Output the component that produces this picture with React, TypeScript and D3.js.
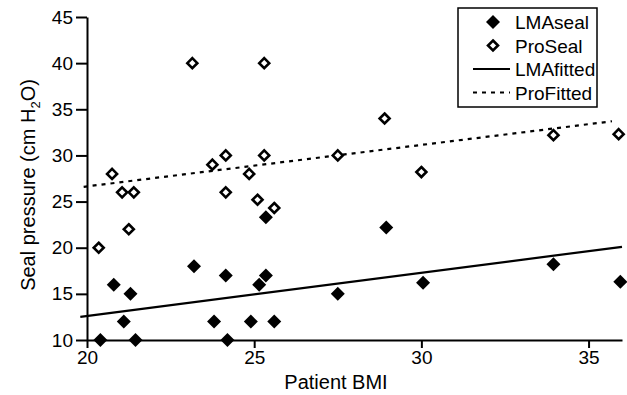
import React, { useRef, useEffect } from 'react';
import * as d3 from 'd3';

// LMA seal pressures (filled diamonds)
const lmaBmi = [20.4, 20.8, 21.1, 21.3, 21.45, 23.2, 23.8, 24.15, 24.2, 24.9, 25.15, 25.35, 25.35, 25.6, 27.5, 28.95, 30.05, 33.95, 35.95];
const lmaSeal = [10, 16, 12, 15, 10, 18, 12, 17, 10, 12, 16, 17, 23.3, 12, 15, 22.2, 16.2, 18.2, 16.3];

// ProSeal pressures (open diamonds)
const proBmi = [20.35, 20.75, 21.05, 21.25, 21.4, 23.15, 23.75, 24.15, 24.15, 24.85, 25.1, 25.3, 25.3, 25.6, 27.5, 28.9, 30.0, 33.95, 35.9];
const proSeal = [20, 28, 26, 22, 26, 40, 29, 30, 26, 28, 25.2, 40, 30, 24.3, 30, 34, 28.2, 32.2, 32.3];

// fitted lines (end points)
const lmaFitX = [19.8, 36];
const lmaFitY = [12.5, 20.1];
const proFitX = [19.9, 35.7];
const proFitY = [26.6, 33.7];

const xTicks = [20, 25, 30, 35];
const yTicks = [10, 15, 20, 25, 30, 35, 40, 45];
const legendLabels = ['LMAseal', 'ProSeal', 'LMAfitted', 'ProFitted'];

const W = 627;
const H = 395;
const FONT = '"Liberation Sans", Arial, Helvetica, sans-serif';

export default function App() {
    const svgRef = useRef<SVGSVGElement | null>(null);

    useEffect(() => {
        const svg = d3.select(svgRef.current);
        svg.selectAll('*').remove();

        const x = d3.scaleLinear().domain([20, 36]).range([87, 622]);
        const y = d3.scaleLinear().domain([10, 45]).range([340, 17]);

        // axes
        const xAxis = svg
            .append('g')
            .attr('transform', `translate(0,${y(10)})`)
            .call(d3.axisBottom(x).tickValues(xTicks).tickSize(8).tickSizeOuter(0).tickPadding(3));
        const yAxis = svg
            .append('g')
            .attr('transform', `translate(${x(20)},0)`)
            .call(d3.axisLeft(y).tickValues(yTicks).tickSize(11).tickSizeOuter(0).tickPadding(3));
        [xAxis, yAxis].forEach((g) => {
            g.selectAll('path,line').attr('stroke', '#000').attr('stroke-width', 2);
            g.selectAll('text').attr('font-family', FONT).attr('font-size', 19).attr('fill', '#000');
        });

        // axis titles
        svg.append('text')
            .attr('x', 336)
            .attr('y', 389)
            .attr('text-anchor', 'middle')
            .attr('font-family', FONT)
            .attr('font-size', 20)
            .text('Patient BMI');

        const yt = svg
            .append('text')
            .attr('transform', 'translate(35,185) rotate(-90)')
            .attr('text-anchor', 'middle')
            .attr('font-family', FONT)
            .attr('font-size', 20);
        yt.append('tspan').text('Seal pressure (cm H');
        yt.append('tspan').attr('font-size', 13).attr('dy', 5).text('2');
        yt.append('tspan').attr('dy', -5).text('O)');

        // fitted lines
        const line = d3
            .line<number>()
            .x((d) => x(d))
            .y((_, i) => 0);
        const lmaLine = d3.line<[number, number]>().x((d) => x(d[0])).y((d) => y(d[1]));
        svg.append('path')
            .attr('d', lmaLine(d3.zip(lmaFitX, lmaFitY) as [number, number][]))
            .attr('fill', 'none')
            .attr('stroke', '#000')
            .attr('stroke-width', 2.2);
        svg.append('path')
            .attr('d', lmaLine(d3.zip(proFitX, proFitY) as [number, number][]))
            .attr('fill', 'none')
            .attr('stroke', '#000')
            .attr('stroke-width', 2.2)
            .attr('stroke-dasharray', '4,5');
        void line;

        const diamond = (r: number) => `M0,${-r}L${r},0L0,${r}L${-r},0Z`;

        // ProSeal points
        svg.append('g')
            .selectAll('path')
            .data(d3.zip(proBmi, proSeal))
            .join('path')
            .attr('transform', (d) => `translate(${x(d[0])},${y(d[1])})`)
            .attr('d', diamond(5))
            .attr('fill', '#fff')
            .attr('stroke', '#000')
            .attr('stroke-width', 2.6);

        // LMA points
        svg.append('g')
            .selectAll('path')
            .data(d3.zip(lmaBmi, lmaSeal))
            .join('path')
            .attr('transform', (d) => `translate(${x(d[0])},${y(d[1])})`)
            .attr('d', diamond(7))
            .attr('fill', '#000');

        // legend
        const lg = svg.append('g').attr('transform', 'translate(458,8)');
        lg.append('rect')
            .attr('width', 139)
            .attr('height', 99)
            .attr('fill', '#fff')
            .attr('stroke', '#000')
            .attr('stroke-width', 1.5);
        legendLabels.forEach((lab, i) => {
            const cy = 14 + i * 23.5;
            if (i === 0) {
                lg.append('path').attr('transform', `translate(35,${cy})`).attr('d', diamond(7)).attr('fill', '#000');
            } else if (i === 1) {
                lg.append('path')
                    .attr('transform', `translate(35,${cy})`)
                    .attr('d', diamond(5))
                    .attr('fill', '#fff')
                    .attr('stroke', '#000')
                    .attr('stroke-width', 2.6);
            } else {
                lg.append('line')
                    .attr('x1', 15)
                    .attr('x2', 52)
                    .attr('y1', cy)
                    .attr('y2', cy)
                    .attr('stroke', '#000')
                    .attr('stroke-width', 2.2)
                    .attr('stroke-dasharray', i === 3 ? '4,5' : null);
            }
            lg.append('text')
                .attr('x', 57)
                .attr('y', cy + 7)
                .attr('font-family', FONT)
                .attr('font-size', 19)
                .text(lab);
        });
    }, []);

    return (
        <svg
            ref={svgRef}
            width={W}
            height={H}
            style={{ position: 'absolute', left: 0, top: 0, background: '#fff' }}
        />
    );
}
